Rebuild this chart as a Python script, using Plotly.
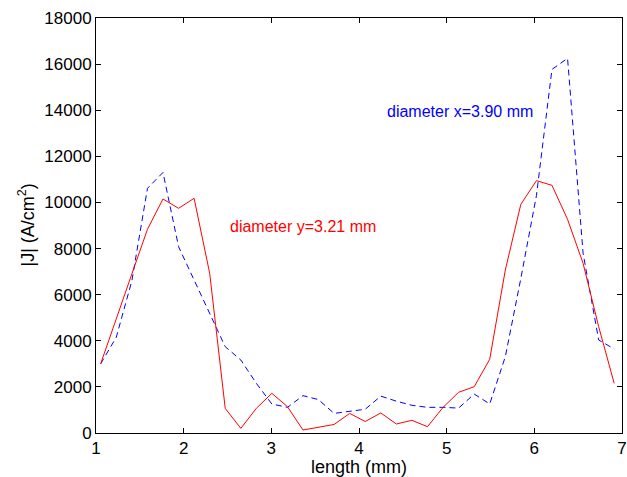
import plotly.graph_objects as go

# length along the sample (mm)
length_mm = [1.053, 1.231, 1.409, 1.587, 1.764, 1.942, 2.119, 2.297, 2.474, 2.652,
             2.829, 3.006, 3.184, 3.361, 3.537, 3.716, 3.894, 4.071, 4.249, 4.426,
             4.604, 4.781, 4.959, 5.136, 5.314, 5.491, 5.669, 5.846, 6.024, 6.201,
             6.379, 6.556, 6.734, 6.911]

# |J| along diameter y (red, solid)
j_diam_y = [3000, 5000, 6900, 8835, 10150, 9745, 10180, 6926, 1070, 200,
            1070, 1720, 1142, 130, 250, 370, 850, 500, 870, 390,
            550, 273, 1113, 1765, 2008, 3196, 7070, 9919, 10944, 10743,
            9268, 7360, 4611, 2155]

# |J| along diameter x (blue, dashed)
j_diam_x = [3000, 4150, 6600, 10612, 11300, 8080, 6635, 5190, 3743, 3166,
            2155, 1258, 1113, 1620, 1450, 850, 930, 1030, 1600, 1380,
            1200, 1113, 1113, 1080, 1690, 1260, 3310, 6700, 10300, 15770,
            16250, 7800, 4033, 3643]

x_ticks = [1, 2, 3, 4, 5, 6, 7]
y_ticks = [0, 2000, 4000, 6000, 8000, 10000, 12000, 14000, 16000, 18000]

label_x = "diameter x=3.90 mm"
label_y = "diameter y=3.21 mm"
y_title = "|J| (A/cm<sup>2</sup>)"

FONT = "Liberation Sans, Arial, Helvetica, sans-serif"

fig = go.Figure()
fig.add_trace(go.Scatter(x=length_mm, y=j_diam_x, mode="lines",
                         line=dict(color="rgb(0,0,255)", width=1, dash="6px,4px"),
                         showlegend=False))
fig.add_trace(go.Scatter(x=length_mm, y=j_diam_y, mode="lines",
                         line=dict(color="rgb(255,0,0)", width=1),
                         showlegend=False))

fig.add_annotation(x=5.148, y=13935, xref="x", yref="y", text=label_x,
                   showarrow=False, font=dict(family=FONT, size=16, color="rgb(0,0,255)"))
fig.add_annotation(x=3.356, y=8947, xref="x", yref="y", text=label_y,
                   showarrow=False, font=dict(family=FONT, size=16, color="rgb(255,0,0)"))
# y-axis title placed as rotated annotation
fig.add_annotation(x=-69 / 526, y=0.5, xref="paper", yref="paper", text=y_title,
                   textangle=-90, showarrow=False, xanchor="center", yanchor="middle",
                   font=dict(family=FONT, size=18, color="black"))

axis_common = dict(showline=True, linecolor="black", linewidth=1, mirror="ticks",
                   ticks="inside", ticklen=5, tickcolor="black", tickwidth=1,
                   showgrid=False, zeroline=False, ticklabeloverflow="allow",
                   tickfont=dict(family=FONT, size=17, color="black"))

fig.update_xaxes(range=[1, 7], tickvals=x_ticks, ticktext=[str(v) for v in x_ticks],
                 title=dict(text="length (mm)", font=dict(family=FONT, size=18, color="black"),
                            standoff=4),
                 **axis_common)
fig.update_yaxes(range=[0, 18000], tickvals=y_ticks, ticktext=[str(v) for v in y_ticks],
                 **axis_common)

fig.update_layout(width=627, height=477,
                  margin=dict(l=96, r=5, t=18, b=44, autoexpand=False),
                  paper_bgcolor="white", plot_bgcolor="white",
                  font=dict(family=FONT, color="black"))

fig.write_html("out.html")
